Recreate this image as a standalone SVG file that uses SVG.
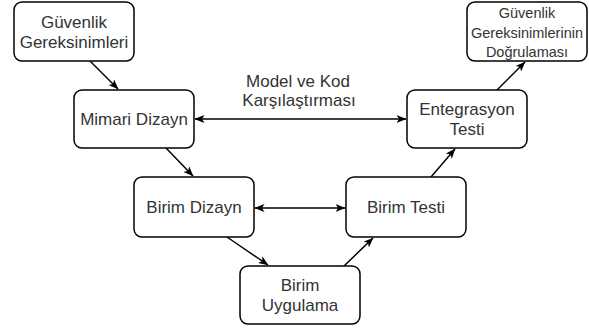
<svg xmlns="http://www.w3.org/2000/svg" width="589" height="331" viewBox="0 0 589 331">
<style>
.box{fill:#fff;stroke:#000;stroke-width:1.5}
.t{font-family:"Liberation Sans",Arial,sans-serif;font-size:17px;fill:#333;text-anchor:middle}
.s{font-size:14.5px}
.c{fill:none;stroke:#000;stroke-width:1.5}
</style>
<defs>
<marker id="a" viewBox="0 0 10 8" refX="9.5" refY="4" markerWidth="10" markerHeight="8" markerUnits="userSpaceOnUse" orient="auto-start-reverse">
<path d="M0,0 L10,4 L0,8 L2.5,4 Z" fill="#000"/>
</marker>
</defs>
<g id="connectors">
<line class="c" x1="90" y1="61" x2="118" y2="89" marker-end="url(#a)"/>
<line class="c" x1="166" y1="148" x2="193" y2="176" marker-end="url(#a)"/>
<line class="c" x1="227" y1="237" x2="268" y2="265" marker-end="url(#a)"/>
<line class="c" x1="344" y1="266" x2="373" y2="238" marker-end="url(#a)"/>
<line class="c" x1="431" y1="177" x2="455" y2="149" marker-end="url(#a)"/>
<line class="c" x1="497" y1="90" x2="525" y2="62" marker-end="url(#a)"/>
<line class="c" x1="195" y1="119" x2="406" y2="119" marker-start="url(#a)" marker-end="url(#a)"/>
<line class="c" x1="255" y1="208" x2="345" y2="208" marker-start="url(#a)" marker-end="url(#a)"/>
<text class="t" x="298" y="87">Model ve Kod</text>
<text class="t" x="299" y="106">Karşılaştırması</text>
</g>
<g id="guvenlik">
<rect class="box" x="14" y="2" width="120" height="59" rx="8"/>
<text class="t" x="74" y="28">Güvenlik</text>
<text class="t" x="74" y="48">Gereksinimleri</text>
</g>
<g id="mimari">
<rect class="box" x="74" y="90" width="120" height="58" rx="8"/>
<text class="t" x="134" y="125">Mimari Dizayn</text>
</g>
<g id="birimdizayn">
<rect class="box" x="134" y="177" width="120" height="60" rx="8"/>
<text class="t" x="194" y="213">Birim Dizayn</text>
</g>
<g id="birimuygulama">
<rect class="box" x="240" y="266" width="120" height="58" rx="8"/>
<text class="t" x="300" y="291">Birim</text>
<text class="t" x="300" y="311">Uygulama</text>
</g>
<g id="birimtesti">
<rect class="box" x="346" y="177" width="120" height="60" rx="8"/>
<text class="t" x="406" y="213">Birim Testi</text>
</g>
<g id="entegrasyon">
<rect class="box" x="407" y="90" width="120" height="58" rx="8"/>
<text class="t" x="467" y="115">Entegrasyon</text>
<text class="t" x="467" y="135">Testi</text>
</g>
<g id="dogrulama">
<rect class="box" x="467" y="2" width="120" height="59" rx="8"/>
<text class="t s" x="527" y="18">Güvenlik</text>
<text class="t s" x="527" y="38">Gereksinimlerinin</text>
<text class="t s" x="527" y="57">Doğrulaması</text>
</g>
</svg>
